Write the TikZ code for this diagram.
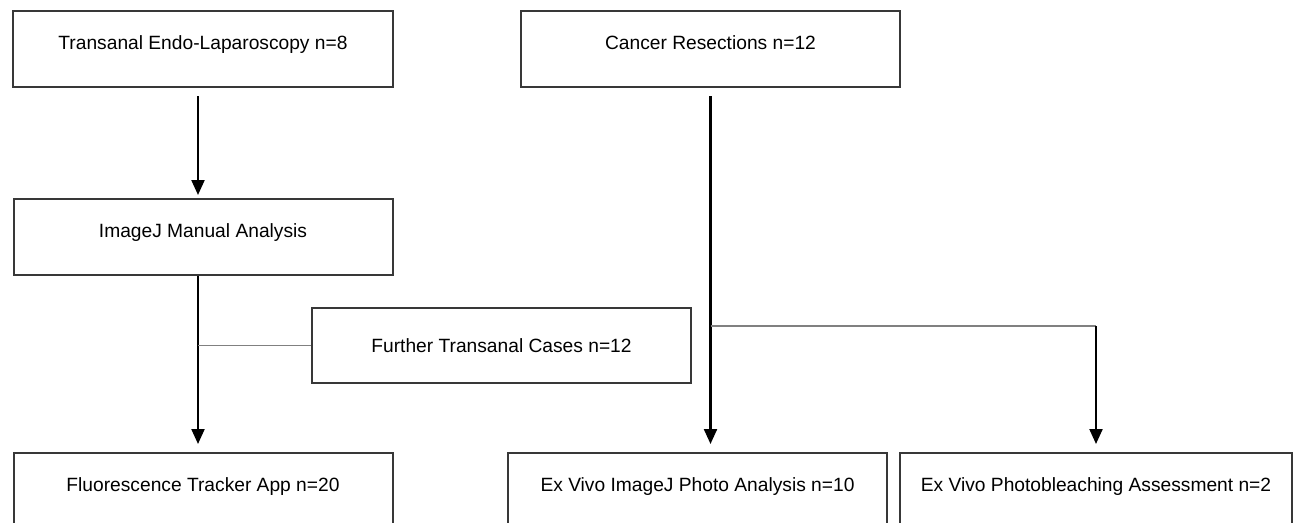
\documentclass[tikz,border=0pt]{standalone}
\usepackage{fontspec}
\setmainfont{Liberation Sans}
\usetikzlibrary{arrows.meta, positioning}
\tikzset{
  stagebox/.style={
    rectangle,
    draw=black!78,
    line width=2pt,
    minimum width=379pt,
    inner xsep=0pt,
    inner ysep=0pt,
    text height=38pt,
    text depth=38pt,
    font=\fontsize{19.2}{23}\selectfont
  },
  flowarrow/.style={
    line width=2.2pt,
    -{Triangle[width=13pt,length=15pt]}
  },
  branchline/.style={
    draw=black!50,
    line width=1.6pt
  }
}

\begin{document}
\begin{tikzpicture}[x=1pt, y=-1pt]
  \useasboundingbox (0,0) rectangle (1295,522);

  % Left column
  \node[stagebox, minimum width=380pt, anchor=north west] (endo) at (12,10) {Transanal Endo-Laparoscopy n=8};
  \node[stagebox, below=110pt of endo] (manual) {ImageJ Manual Analysis};
  \node[stagebox, below=176pt of manual] (tracker) {Fluorescence Tracker App n=20};
  \node[stagebox, text height=44pt, text depth=31pt] (further) at (501.5,345.5) {Further Transanal Cases n=12};

  % Right column
  \node[stagebox, right=126pt of endo] (cancer) {Cancer Resections n=12};
  \node[stagebox, anchor=north] (photo) at (697.5,452) {Ex Vivo ImageJ Photo Analysis n=10};
  \node[stagebox, minimum width=392pt, right=11pt of photo] (bleach) {Ex Vivo Photobleaching Assessment n=2};

  % Arrows
  \coordinate (stem) at ([xshift=-5pt]endo.south);
  \draw[flowarrow, shorten <=8pt, shorten >=3pt] (stem) -- (stem |- manual.north);
  \coordinate (drop) at ([xshift=-5pt]manual.south);
  \draw[flowarrow, shorten >=8pt] (drop) -- (drop |- tracker.north);
  \coordinate (join) at (drop |- further.west);
  \draw[branchline] (join) -- (further.west);

  \draw[flowarrow, shorten <=8pt, shorten >=8pt] (cancer.south) -- (cancer.south |- photo.north);
  \coordinate (fork) at (cancer.south |- 0,326);
  \coordinate (corner) at (bleach.north |- fork);
  \draw[branchline] (fork) -- (corner);
  \draw[flowarrow, shorten >=8pt] (corner) -- (bleach.north);
\end{tikzpicture}
\end{document}
